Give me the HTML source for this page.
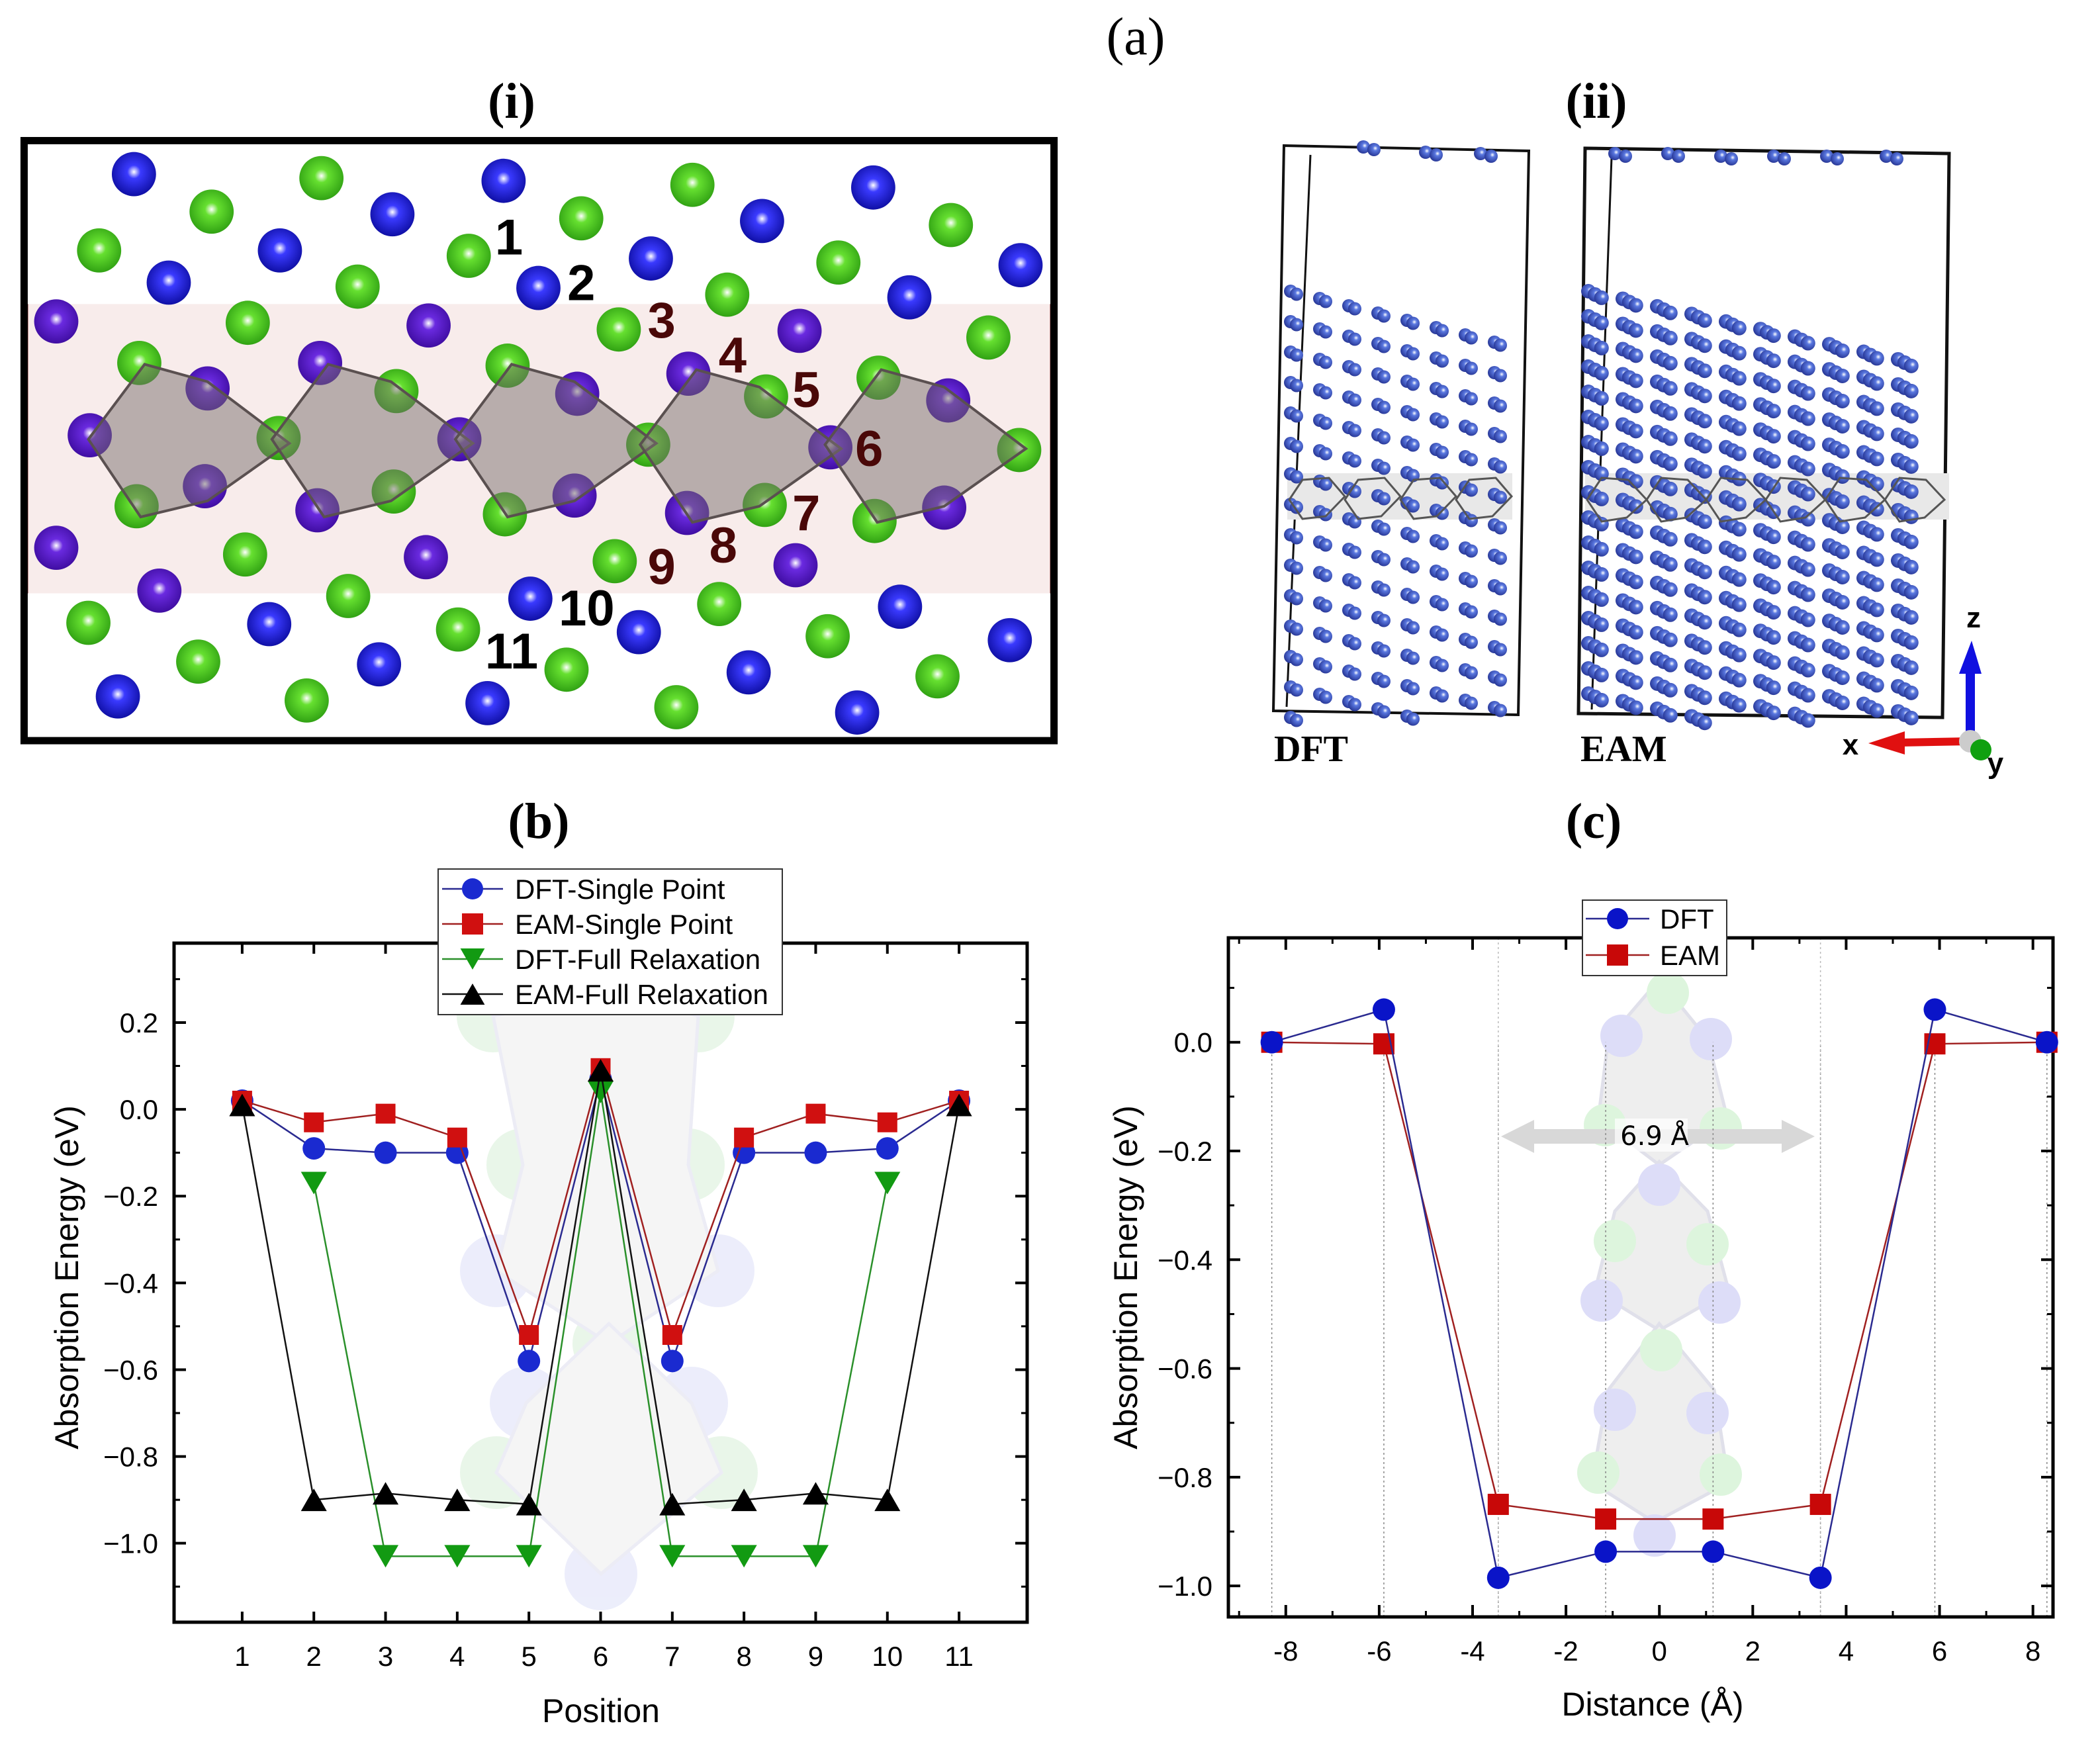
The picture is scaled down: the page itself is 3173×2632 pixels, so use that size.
<!DOCTYPE html>
<html><head><meta charset="utf-8"><style>
html,body{margin:0;padding:0;background:#fff;}
svg{display:block;}
text{font-family:"Liberation Sans",sans-serif;}
.ser{font-family:"Liberation Serif",serif;}
</style></head><body>
<svg id="root" width="3173" height="2632" viewBox="0 0 3173 2632" xmlns="http://www.w3.org/2000/svg">
<defs>
<radialGradient id="gB" cx="0.5" cy="0.45" r="0.6"><stop offset="0" stop-color="#ffffff"/><stop offset="0.25" stop-color="#3a3aff"/><stop offset="1" stop-color="#0a0a9a"/></radialGradient>
<radialGradient id="gP" cx="0.5" cy="0.45" r="0.6"><stop offset="0" stop-color="#ffffff"/><stop offset="0.25" stop-color="#6a2ae0"/><stop offset="1" stop-color="#3a0a9a"/></radialGradient>
<radialGradient id="gG" cx="0.5" cy="0.45" r="0.6"><stop offset="0" stop-color="#ffffff"/><stop offset="0.25" stop-color="#66e030"/><stop offset="1" stop-color="#2a9a10"/></radialGradient>
<radialGradient id="gS" cx="0.6" cy="0.4" r="0.6"><stop offset="0" stop-color="#ffffff"/><stop offset="0.3" stop-color="#5a78e0"/><stop offset="1" stop-color="#2a3a9a"/></radialGradient>
</defs>
<text class="ser" x="1716" y="82" font-size="80" text-anchor="middle">(a)</text>
<text class="ser" x="773" y="178" font-size="76" font-weight="bold" text-anchor="middle">(i)</text>
<text class="ser" x="2412" y="178" font-size="76" font-weight="bold" text-anchor="middle">(ii)</text>
<text class="ser" x="814" y="1266" font-size="76" font-weight="bold" text-anchor="middle">(b)</text>
<text class="ser" x="2408" y="1266" font-size="76" font-weight="bold" text-anchor="middle">(c)</text>
<g id="pi"></g>
<g id="pii"></g>
<g id="cb"></g>
<g id="cc"></g>
</svg>
<script>
// ---------- chart (b) data ----------
const bPositions = [1,2,3,4,5,6,7,8,9,10,11];
const bDftSingle = [0.02,-0.09,-0.10,-0.10,-0.58,0.07,-0.58,-0.10,-0.10,-0.09,0.02];
const bEamSingle = [0.02,-0.03,-0.01,-0.065,-0.52,0.095,-0.52,-0.065,-0.01,-0.03,0.02];
const bDftFull = [null,-0.17,-1.03,-1.03,-1.03,0.04,-1.03,-1.03,-1.03,-0.17,null];
const bEamFull = [0.01,-0.90,-0.885,-0.90,-0.91,0.09,-0.91,-0.90,-0.885,-0.90,0.01];
const bYTicks = [0.2,0.0,-0.2,-0.4,-0.6,-0.8,-1.0];
const bYTickLabels = ["0.2","0.0","\u22120.2","\u22120.4","\u22120.6","\u22120.8","\u22121.0"];
const bLegend = ["DFT-Single Point","EAM-Single Point","DFT-Full Relaxation","EAM-Full Relaxation"];
// ---------- chart (c) data ----------
const cDistance = [-8.3,-5.9,-3.45,-1.15,1.15,3.45,5.9,8.3];
const cDft = [0,0.06,-0.985,-0.937,-0.937,-0.985,0.06,0];
const cEam = [0,-0.003,-0.85,-0.877,-0.877,-0.85,-0.003,0];
const cXTicks = [-8,-6,-4,-2,0,2,4,6,8];
const cXTickLabels = ["-8","-6","-4","-2","0","2","4","6","8"];
const cYTicks = [0.0,-0.2,-0.4,-0.6,-0.8,-1.0];
const cYTickLabels = ["0.0","\u22120.2","\u22120.4","\u22120.6","\u22120.8","\u22121.0"];
const cLegend = ["DFT","EAM"];

const NS="http://www.w3.org/2000/svg";
function mk(parent,tag,attrs,txt){const e=document.createElementNS(NS,tag);for(const k in attrs)e.setAttribute(k,attrs[k]);if(txt!==undefined)e.textContent=txt;parent.appendChild(e);return e;}

// ---------- panel (i) ----------
const S=2.0236;
const pi=document.getElementById('pi');
mk(pi,'rect',{x:18*S,y:227*S,width:769*S,height:216*S,fill:'#f8eceb'});
mk(pi,'line',{x1:18*S+4,y1:227*S,x2:18*S+4,y2:443*S,stroke:'#6a0a0a','stroke-width':4});
mk(pi,'line',{x1:787*S-4,y1:227*S,x2:787*S-4,y2:443*S,stroke:'#6a0a0a','stroke-width':4});
const atoms=[['B',100,130],['G',240,133],['B',376,135],['G',517,138],['B',652,140],
['G',158,158],['B',293,160],['G',434,163],['B',569,165],['G',710,168],
['G',74,187],['B',209,187],['G',350,191],['B',486,193],['G',626,196],['B',762,198],
['B',126,211],['G',267,214],['B',402,215],['G',543,220],['B',679,222],
['P',42,240],['G',185,241],['P',320,243],['G',462,246],['P',597,247],['G',738,252],
['G',104,271],['P',239,271],['G',379,273],['P',514,279],['G',656,282],
['P',155,290],['G',296,292],['P',431,294],['G',572,296],['P',708,299],
['P',67,325],['G',208,327],['P',343,328],['G',484,332],['P',620,334],['G',761,336],
['P',153,363],['G',294,367],['P',429,370],['G',571,377],['P',705,379],
['G',102,378],['P',237,381],['G',377,384],['P',513,383],['G',653,389],
['P',42,409],['G',183,414],['P',318,416],['G',459,419],['P',594,422],
['P',119,441],['G',260,445],['B',396,447],['G',537,451],['B',672,453],
['G',66,465],['B',201,466],['G',342,470],['B',477,472],['G',618,475],['B',754,478],
['G',148,494],['B',283,496],['G',423,500],['B',559,502],['G',700,505],
['B',88,520],['G',229,523],['B',364,525],['G',505,528],['B',640,532]];
atoms.forEach(a=>{const c=mk(pi,'circle',{cx:a[1]*S,cy:a[2]*S,r:16.5*S,fill:'url(#g'+a[0]+')'});

});
const polyBase=[[66,328],[108,272],[155,285],[216,331],[155,374],[105,386]];
const polyOff=[[0,0],[137,0],[274,0],[412,4],[550,4]];
polyOff.forEach(o=>{const pts=polyBase.map(p=>((p[0]+o[0])*S)+','+((p[1]+o[1])*S)).join(' ');
const p=mk(pi,'polygon',{points:pts,fill:'rgba(120,110,110,0.5)',stroke:'#5a5050','stroke-width':4});

});
mk(pi,'rect',{x:18*S,y:105*S,width:769*S,height:448*S,fill:'none',stroke:'#000','stroke-width':11});
const labs=[['1',380,190,'#000'],['2',434,224,'#000'],['3',494,252,'#4a0808'],['4',547,278,'#4a0808'],['5',602,304,'#4a0808'],['6',649,348,'#4a0808'],['7',602,396,'#4a0808'],['8',540,420,'#4a0808'],['9',494,436,'#4a0808'],['10',438,467,'#000'],['11',382,499,'#000']];
labs.forEach(l=>{const t=mk(pi,'text',{x:l[1]*S,y:l[2]*S,'font-size':76,'font-weight':'bold',fill:l[3],'text-anchor':'middle'},l[0]);

});

// ---------- panel (ii) ----------
const pii=document.getElementById('pii');
function cell(x0,y0,w,h,dx,thick){
  mk(pii,'polygon',{points:`${x0},${y0} ${x0+w},${y0+8} ${x0+w-dx},${y0+h} ${x0-dx},${y0+h-6}`,fill:'none',stroke:'#111','stroke-width':thick});
  mk(pii,'line',{x1:x0+40,y1:y0+14,x2:x0+20-dx,y2:y0+h-12,stroke:'#111','stroke-width':3});
}
cell(1940,220,370,860,16,4);
cell(2395,224,550,860,10,5);
function slab(xl,xr,yt,yb,rowDy,colDx,slope,r,group){
  for(let y=yt;y<yb;y+=rowDy){
    for(let x=xl;x<xr;x+=colDx){
      const yy=y+(x-xl)*slope; if(yy>yb) continue;
      for(let k=0;k<group;k++){mk(pii,'circle',{cx:x+k*r*0.9,cy:yy+k*r*0.45,r:r,fill:'url(#gS)'});}
    }
  }
}
mk(pii,'rect',{x:1945,y:715,width:340,height:70,fill:'#e8e8e8'});
mk(pii,'rect',{x:2395,y:715,width:550,height:70,fill:'#e8e8e8'});
slab(1950,2270,440,1085,46,44,0.25,10,2);
slab(2400,2920,440,1085,38,52,0.22,11,3);
[[2060,222],[2154,230],[2237,232],[2440,232],[2520,232],[2600,236],[2680,236],[2760,236],[2850,236]].forEach(p=>{mk(pii,'circle',{cx:p[0],cy:p[1],r:10,fill:'url(#gS)'});mk(pii,'circle',{cx:p[0]+16,cy:p[1]+4,r:10,fill:'url(#gS)'});});
for(let i=0;i<4;i++){const x=1948+i*84;mk(pii,'polygon',{points:`${x},${755} ${x+20},${725} ${x+60},${722} ${x+84},${750} ${x+55},${780} ${x+20},${784}`,fill:'none',stroke:'#555','stroke-width':3});}
for(let i=0;i<6;i++){const x=2398+i*90;mk(pii,'polygon',{points:`${x},${755} ${x+22},${722} ${x+62},${725} ${x+90},${755} ${x+60},${782} ${x+22},${788}`,fill:'none',stroke:'#555','stroke-width':3});}
mk(pii,'text',{class:'ser',x:1925,y:1150,'font-size':56,'font-weight':'bold'},'DFT');
mk(pii,'text',{class:'ser',x:2388,y:1150,'font-size':56,'font-weight':'bold'},'EAM');
mk(pii,'line',{x1:2977,y1:1118,x2:2977,y2:1010,stroke:'#1010e0','stroke-width':14});
mk(pii,'polygon',{points:'2960,1018 2994,1018 2979,968',fill:'#1010e0'});
mk(pii,'line',{x1:2977,y1:1120,x2:2870,y2:1122,stroke:'#e01010','stroke-width':12});
mk(pii,'polygon',{points:'2878,1105 2878,1140 2823,1123',fill:'#e01010'});
mk(pii,'circle',{cx:2977,cy:1120,r:17,fill:'#ccc'});
mk(pii,'circle',{cx:2993,cy:1133,r:16,fill:'#10a010'});
mk(pii,'text',{x:2982,y:948,'font-size':44,'font-weight':'bold','text-anchor':'middle'},'z');
mk(pii,'text',{x:2796,y:1140,'font-size':44,'font-weight':'bold','text-anchor':'middle'},'x');
mk(pii,'text',{x:3015,y:1168,'font-size':44,'font-weight':'bold','text-anchor':'middle'},'y');

// ---------- generic chart ----------
function chart(g,box,xd,yd){
  const X=v=>box.x+(v-xd[0])/(xd[1]-xd[0])*box.w;
  const Y=v=>box.y+(yd[0]-v)/(yd[0]-yd[1])*box.h;
  return {X,Y};
}
function marker(g,type,x,y,color,s){
  let e;
  if(type==='circle') e=mk(g,'circle',{cx:x,cy:y,r:s,fill:color});
  else if(type==='square') e=mk(g,'rect',{x:x-s,y:y-s,width:2*s,height:2*s,fill:color});
  else if(type==='down') e=mk(g,'polygon',{points:`${x-s*1.15},${y-s} ${x+s*1.15},${y-s} ${x},${y+s}`,fill:color});
  else e=mk(g,'polygon',{points:`${x-s*1.15},${y+s} ${x+s*1.15},${y+s} ${x},${y-s}`,fill:color});
  return e;
}
function series(g,xs,ys,X,Y,line,fill,type,s,name){
  const gg=mk(g,'g',{});
  
  
  let d='';let pen=false;
  xs.forEach((xv,i)=>{if(ys[i]===null){pen=false;return;}d+=(pen?'L':'M')+X(xv)+','+Y(ys[i]);pen=true;});
  mk(gg,'path',{d:d,fill:'none',stroke:line,'stroke-width':2.5});
  xs.forEach((xv,i)=>{if(ys[i]===null)return;const m=marker(gg,type,X(xv),Y(ys[i]),fill,s);
    
    });
}

// ---------- chart (b) ----------
(function(){
  const g=document.getElementById('cb');
  const box={x:263,y:1425,w:1289,h:1026};
  const {X,Y}=chart(g,box,[0.05,11.95],[0.383,-1.182]);
  const gh=mk(g,'g',{opacity:0.55});
  [[745,1535,'#d8f0d8'],[1055,1535,'#d8f0d8'],[918,1625,'#dde0f8'],[790,1760,'#d8f0d8'],[1040,1760,'#d8f0d8'],[750,1920,'#dde0f8'],[1085,1920,'#dde0f8'],[920,2030,'#d8f0d8'],[795,2120,'#dde0f8'],[1045,2120,'#dde0f8'],[750,2225,'#d8f0d8'],[1090,2225,'#d8f0d8'],[908,2378,'#dde0f8']].forEach(c=>mk(gh,'circle',{cx:c[0],cy:c[1],r:55,fill:c[2]}));
  mk(gh,'polygon',{points:'745,1535 918,1500 1055,1535 1040,1760 1085,1920 920,2030 750,1920 790,1760',fill:'#eeeeee',stroke:'#dde','stroke-width':5});
  mk(gh,'polygon',{points:'920,2000 1045,2120 1090,2225 908,2378 750,2225 795,2120',fill:'#eeeeee',stroke:'#dde','stroke-width':5});
  mk(g,'rect',{x:box.x,y:box.y,width:box.w,height:box.h,fill:'none',stroke:'#000','stroke-width':5});
  bPositions.forEach(p=>{const x=X(p);
    mk(g,'line',{x1:x,y1:box.y+box.h,x2:x,y2:box.y+box.h-16,stroke:'#000','stroke-width':4});
    mk(g,'line',{x1:x,y1:box.y,x2:x,y2:box.y+16,stroke:'#000','stroke-width':4});
    const t=mk(g,'text',{x:x,y:box.y+box.h+66,'font-size':42,'text-anchor':'middle'},String(p));
    
    });
  for(let k=3;k>=-11;k--){const y=Y(k/10);
    mk(g,'line',{x1:box.x,y1:y,x2:box.x+9,y2:y,stroke:'#000','stroke-width':3});
    mk(g,'line',{x1:box.x+box.w,y1:y,x2:box.x+box.w-9,y2:y,stroke:'#000','stroke-width':3});}
  bYTicks.forEach((v,i)=>{const y=Y(v);
    mk(g,'line',{x1:box.x,y1:y,x2:box.x+18,y2:y,stroke:'#000','stroke-width':4});
    mk(g,'line',{x1:box.x+box.w,y1:y,x2:box.x+box.w-18,y2:y,stroke:'#000','stroke-width':4});
    const t=mk(g,'text',{x:box.x-24,y:y+15,'font-size':42,'text-anchor':'end'},bYTickLabels[i]);
    
    });
  const xt=mk(g,'text',{x:908,y:2602,'font-size':50,'text-anchor':'middle'},'Position');
  
  
  const yt=mk(g,'text',{x:0,y:0,'font-size':50,'text-anchor':'middle',transform:'translate(118,1930) rotate(-90)'},'Absorption Energy (eV)');
  
  
  series(g,bPositions,bDftSingle,X,Y,'#2a2a90','#1a2ad0','circle',17,'dft-single-point');
  series(g,bPositions,bEamSingle,X,Y,'#a02020','#d01010','square',15,'eam-single-point');
  series(g,bPositions,bDftFull,X,Y,'#2a902a','#129a12','down',17,'dft-full-relaxation');
  series(g,bPositions,bEamFull,X,Y,'#111','#000','up',17,'eam-full-relaxation');
  const lg=mk(g,'g',{});
  
  
  mk(lg,'rect',{x:662,y:1313,width:520,height:220,fill:'#fff',stroke:'#333','stroke-width':2});
  const types=['circle','square','down','up'],lc=['#2a2a90','#a02020','#2a902a','#111'],fc=['#1a2ad0','#d01010','#129a12','#000'];
  bLegend.forEach((n,i)=>{const y=1343+i*53;
    mk(lg,'line',{x1:668,y1:y,x2:760,y2:y,stroke:lc[i],'stroke-width':2.5});
    marker(lg,types[i],714,y,fc[i],16);
    const t=mk(lg,'text',{x:778,y:y+15,'font-size':42},n);
    
    });
})();

// ---------- chart (c) ----------
(function(){
  const g=document.getElementById('cc');
  const box={x:1856,y:1417,w:1246,h:1026};
  const {X,Y}=chart(g,box,[-9.23,8.43],[0.192,-1.057]);
  const gh=mk(g,'g',{opacity:0.6});
  mk(gh,'polygon',{points:'2507,1480 2580,1570 2610,1690 2507,1760 2415,1690 2430,1570',fill:'#e4e4e4',stroke:'#ccd','stroke-width':5});
  mk(gh,'polygon',{points:'2507,1755 2580,1830 2612,1950 2507,2010 2410,1950 2440,1830',fill:'#e4e4e4',stroke:'#ccd','stroke-width':5});
  mk(gh,'polygon',{points:'2507,2000 2590,2100 2612,2240 2500,2300 2405,2240 2430,2100',fill:'#e4e4e4',stroke:'#ccd','stroke-width':5});
  [[2450,1565,'#c8c8f4'],[2585,1570,'#c8c8f4'],[2425,1700,'#c8f0c8'],[2600,1705,'#c8f0c8'],[2507,1790,'#c8c8f4'],[2440,1875,'#c8f0c8'],[2580,1880,'#c8f0c8'],[2420,1965,'#c8c8f4'],[2598,1968,'#c8c8f4'],[2510,2040,'#c8f0c8'],[2440,2130,'#c8c8f4'],[2580,2135,'#c8c8f4'],[2415,2225,'#c8f0c8'],[2600,2228,'#c8f0c8'],[2500,2320,'#c8c8f4'],[2520,1500,'#c8f0c8']].forEach(c=>mk(gh,'circle',{cx:c[0],cy:c[1],r:32,fill:c[2]}));
  mk(g,'line',{x1:2300,y1:1717,x2:2710,y2:1717,stroke:'#d8d8d8','stroke-width':22});
  mk(g,'polygon',{points:'2268,1717 2318,1692 2318,1742',fill:'#d8d8d8'});
  mk(g,'polygon',{points:'2742,1717 2692,1692 2692,1742',fill:'#d8d8d8'});
  mk(g,'rect',{x:2440,y:1690,width:110,height:50,fill:'#fff',opacity:0.7});
  const dt=mk(g,'text',{x:2500,y:1730,'font-size':40,'text-anchor':'middle',style:'font-family:"DejaVu Sans",sans-serif'},'6.9 Å');
  
  
  cDistance.forEach(d=>mk(g,'line',{x1:X(d),y1:box.y+box.h,x2:X(d),y2:Y(0.0),stroke:'#888','stroke-width':1.5,'stroke-dasharray':'3,4'}));
  [-3.45,3.45].forEach(d=>mk(g,'line',{x1:X(d),y1:box.y,x2:X(d),y2:box.y+box.h,stroke:'#bbb','stroke-width':1.5,'stroke-dasharray':'3,4'}));
  mk(g,'rect',{x:box.x,y:box.y,width:box.w,height:box.h,fill:'none',stroke:'#000','stroke-width':5});
  for(let v=-9;v<=8;v++){const x=X(v);mk(g,'line',{x1:x,y1:box.y+box.h,x2:x,y2:box.y+box.h-9,stroke:'#000','stroke-width':3});mk(g,'line',{x1:x,y1:box.y,x2:x,y2:box.y+9,stroke:'#000','stroke-width':3});}
  cXTicks.forEach((v,i)=>{const x=X(v);
    mk(g,'line',{x1:x,y1:box.y+box.h,x2:x,y2:box.y+box.h-18,stroke:'#000','stroke-width':4});
    mk(g,'line',{x1:x,y1:box.y,x2:x,y2:box.y+18,stroke:'#000','stroke-width':4});
    const t=mk(g,'text',{x:x,y:box.y+box.h+66,'font-size':42,'text-anchor':'middle'},cXTickLabels[i]);
    
    });
  for(let k=1;k>=-10;k--){const y=Y(k/10);
    mk(g,'line',{x1:box.x,y1:y,x2:box.x+9,y2:y,stroke:'#000','stroke-width':3});
    mk(g,'line',{x1:box.x+box.w,y1:y,x2:box.x+box.w-9,y2:y,stroke:'#000','stroke-width':3});}
  cYTicks.forEach((v,i)=>{const y=Y(v);
    mk(g,'line',{x1:box.x,y1:y,x2:box.x+18,y2:y,stroke:'#000','stroke-width':4});
    mk(g,'line',{x1:box.x+box.w,y1:y,x2:box.x+box.w-18,y2:y,stroke:'#000','stroke-width':4});
    const t=mk(g,'text',{x:box.x-24,y:y+15,'font-size':42,'text-anchor':'end'},cYTickLabels[i]);
    
    });
  const xt=mk(g,'text',{x:2497,y:2592,'font-size':50,'text-anchor':'middle'},'Distance (Å)');
  
  
  const yt=mk(g,'text',{x:0,y:0,'font-size':50,'text-anchor':'middle',transform:'translate(1718,1930) rotate(-90)'},'Absorption Energy (eV)');
  
  
  series(g,cDistance,cEam,X,Y,'#a02020','#c80808','square',16,'eam-series');
  series(g,cDistance,cDft,X,Y,'#2a2a90','#0a14c8','circle',17,'dft-series');
  const lg=mk(g,'g',{});
  
  
  mk(lg,'rect',{x:2391,y:1360,width:218,height:114,fill:'#fff',stroke:'#333','stroke-width':2});
  const ty=['circle','square'],lc=['#2a2a90','#a02020'],fc=['#0a14c8','#c80808'];
  cLegend.forEach((n,i)=>{const y=1388+i*55;
    mk(lg,'line',{x1:2396,y1:y,x2:2492,y2:y,stroke:lc[i],'stroke-width':2.5});
    marker(lg,ty[i],2444,y,fc[i],16);
    const t=mk(lg,'text',{x:2508,y:y+15,'font-size':42},n);
    
    });
})();
</script>
</body></html>
